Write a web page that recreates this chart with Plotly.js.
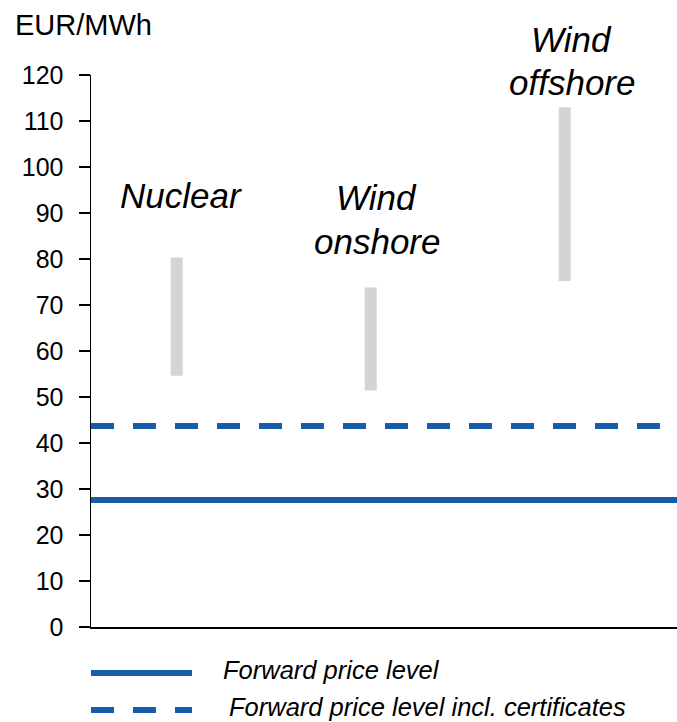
<!DOCTYPE html>
<html>
<head>
<meta charset="utf-8">
<script src="https://cdn.plot.ly/plotly-3.0.1.min.js"></script>
<style>
html,body{margin:0;padding:0;background:#fff;}
#chart{width:677px;height:722px;}
</style>
</head>
<body>
<div id="chart"></div>
<script>
// ---- data ----
const categories = ["Nuclear", "Wind onshore", "Wind offshore"];
const categoryLabelLines = [["Nuclear"], ["Wind", "onshore"], ["Wind", "offshore"]];
const rangeLow = [54.6, 51.4, 75.2];
const rangeHigh = [80.3, 73.8, 113.0];
const forwardPrice = 27.6;
const forwardPriceCertificates = 43.7;
const seriesNames = ["Forward price level", "Forward price level incl. certificates"];
const yTickValues = [0, 10, 20, 30, 40, 50, 60, 70, 80, 90, 100, 110, 120];
const yUnit = "EUR/MWh";

// ---- layout helpers (pixel geometry) ----
const W = 677, H = 722;
const L = 91, R = 0, T = 75, B = 95;
const plotW = W - L - R, plotH = H - T - B;
const pxX = px => (px - L) / plotW;
const pxY = py => (H - B - py) / plotH;
const Y_MAX = 120;

const FONT = "Liberation Sans, Arial, Helvetica, sans-serif";
const BLUE = "#175ca9";
const GREY = "#d4d4d4";

const idx = categories.map((c, i) => i);

const barTrace = {
  type: "bar",
  x: idx,
  base: rangeLow,
  y: rangeHigh.map((h, i) => h - rangeLow[i]),
  width: 0.062,
  marker: {color: GREY, line: {width: 0}},
  hoverinfo: "skip",
  showlegend: false
};

// label vertical centres per line (in y-axis units), per category
const labelLineY = [[93.7], [93.4, 83.8], [127.7, 118.4]];
const labelXShift = [4, 6, 7];

const annotations = [];
categoryLabelLines.forEach((lines, i) => {
  lines.forEach((t, j) => {
    annotations.push({
      x: idx[i], y: labelLineY[i][j] / Y_MAX, xref: "x", yref: "paper",
      text: "<i>" + t + "</i>", showarrow: false,
      xanchor: "center", yanchor: "middle", xshift: labelXShift[i],
      font: {family: FONT, size: 35, color: "#000"}
    });
  });
});

annotations.push({
  x: pxX(13), y: pxY(25), xref: "paper", yref: "paper",
  text: yUnit, showarrow: false, xanchor: "left", yanchor: "middle",
  font: {family: FONT, size: 29, color: "#000"}
});

annotations.push({
  x: pxX(221), y: pxY(670), xref: "paper", yref: "paper",
  text: "<i>" + seriesNames[0] + "</i>", showarrow: false, xanchor: "left", yanchor: "middle",
  font: {family: FONT, size: 25.5, color: "#000"}
});
annotations.push({
  x: pxX(227), y: pxY(707), xref: "paper", yref: "paper",
  text: "<i>" + seriesNames[1] + "</i>", showarrow: false, xanchor: "left", yanchor: "middle",
  font: {family: FONT, size: 25.5, color: "#000"}
});

const shapes = [
  {type: "line", xref: "x domain", yref: "y", x0: 0, x1: 1, y0: forwardPrice, y1: forwardPrice,
   line: {color: BLUE, width: 6}, layer: "above"},
  {type: "line", xref: "x domain", yref: "y", x0: 0, x1: 1, y0: forwardPriceCertificates, y1: forwardPriceCertificates,
   line: {color: BLUE, width: 6, dash: "23px,19px"}, layer: "above"},
  // legend samples
  {type: "line", xref: "paper", yref: "paper", x0: pxX(91), x1: pxX(192), y0: pxY(673), y1: pxY(673),
   line: {color: BLUE, width: 6}},
  {type: "line", xref: "paper", yref: "paper", x0: pxX(91), x1: pxX(192), y0: pxY(710), y1: pxY(710),
   line: {color: BLUE, width: 6, dash: "23px,19px"}}
];

const layout = {
  width: W, height: H,
  margin: {l: L, r: R, t: T, b: B, pad: 0},
  paper_bgcolor: "#fff", plot_bgcolor: "#fff",
  showlegend: false,
  font: {family: FONT, color: "#000"},
  xaxis: {
    type: "linear",
    range: [-(176.7 - L) / 194, (W - R - 176.7) / 194],
    showgrid: false, zeroline: false, showticklabels: false, ticks: "",
    showline: true, linecolor: "#000", linewidth: 1.5, fixedrange: true
  },
  yaxis: {
    range: [0, Y_MAX],
    tickmode: "array", tickvals: yTickValues,
    ticks: "outside", ticklen: 11, tickwidth: 1.5, tickcolor: "#000",
    showline: true, linecolor: "#000", linewidth: 1.5,
    showgrid: false, zeroline: false,
    tickfont: {family: FONT, size: 25, color: "#000"},
    ticklabelstandoff: 10, fixedrange: true
  },
  annotations: annotations,
  shapes: shapes
};

Plotly.newPlot("chart", [barTrace], layout, {displayModeBar: false, staticPlot: true});
</script>
</body>
</html>
